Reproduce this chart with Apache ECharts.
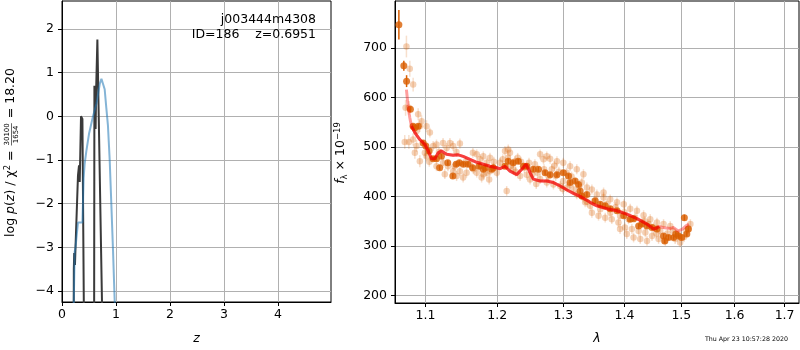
<!DOCTYPE html>
<html>
<head>
<meta charset="utf-8">
<script src="https://cdn.jsdelivr.net/npm/echarts@6/dist/echarts.min.js"></script>
<style>
html,body{margin:0;padding:0;background:#fff}
#chart{width:800px;height:350px}
</style>
</head>
<body>
<div id="chart"></div>
<script>
// ---- redshift panel: log p(z) curves -------------------------------------
const zTicks = [0, 1, 2, 3, 4];
const logpTicks = [-4, -3, -2, -1, 0, 1, 2];

// [z, log p(z)]  (values far below the axis floor mark the gaps between peaks)
const pzBlack = [
  [0.212, -9], [0.219, -3.5], [0.226, -3.13], [0.240, -3.4], [0.250, -3.0],
  [0.296, -1.35], [0.315, -1.12], [0.328, -1.5], [0.352, 0.0], [0.378, -0.06],
  [0.404, -4.3], [0.410, -9], [0.590, -9], [0.595, -4.3], [0.600, 0.70],
  [0.610, 0.72], [0.622, -0.29], [0.632, 0.60], [0.655, 1.76], [0.682, 1.76],
  [0.741, -4.3], [0.746, -9]
];
const pzBlue = [
  [0.210, -9], [0.217, -4.3], [0.235, -3.1], [0.250, -3.0], [0.266, -2.8],
  [0.296, -2.43], [0.378, -2.43], [0.390, -1.9], [0.400, -1.42], [0.420, -1.08],
  [0.450, -0.80], [0.500, -0.40], [0.574, 0.0], [0.640, 0.30], [0.700, 0.75],
  [0.730, 0.86], [0.760, 0.84], [0.790, 0.62], [0.820, 0.20], [0.850, -0.20],
  [0.883, -1.0], [0.910, -1.9], [0.945, -3.09], [0.976, -4.25], [0.990, -9]
];

// ---- spectrum panel -------------------------------------------------------
const lamTicks = [1.1, 1.2, 1.3, 1.4, 1.5, 1.6, 1.7];
const fluxTicks = [200, 300, 400, 500, 600, 700];

// [lambda (um), flux, error]  faint points
const lightPts = [
  [1.0748, 703, 22], [1.0737, 579, 16], [1.0726, 510, 14], [1.0781, 579, 14],
  [1.0780, 510, 14], [1.0792, 658, 16], [1.0836, 626, 14], [1.0835, 515, 12],
  [1.0858, 488, 12], [1.0880, 532, 12], [1.0880, 502, 12], [1.0902, 566, 12],
  [1.0924, 542, 12], [1.0924, 471, 12], [1.0947, 552, 12], [1.0991, 488, 10],
  [1.1013, 542, 12], [1.1013, 481, 10], [1.1050, 470, 10], [1.1058, 529, 10],
  [1.1102, 502, 10], [1.1147, 505, 10], [1.1147, 461, 10], [1.1180, 490, 10],
  [1.1236, 508, 10], [1.1236, 468, 10], [1.1260, 445, 10], [1.1285, 498, 10],
  [1.1303, 461, 10], [1.1330, 508, 10], [1.1375, 502, 10], [1.1375, 451, 10],
  [1.1394, 461, 10], [1.1420, 490, 10], [1.1422, 441, 10], [1.1468, 507, 10],
  [1.1468, 451, 10], [1.1513, 438, 10], [1.1550, 470, 10], [1.1561, 448, 10],
  [1.1608, 465, 10], [1.1650, 488, 10], [1.1656, 455, 10], [1.1704, 485, 10],
  [1.1704, 448, 10], [1.1750, 475, 10], [1.1750, 461, 10], [1.1774, 438, 10],
  [1.1798, 481, 10], [1.1798, 445, 10], [1.1846, 468, 10], [1.1846, 448, 10],
  [1.1882, 434, 10], [1.1894, 478, 10], [1.1894, 451, 10], [1.1942, 458, 10],
  [1.1950, 470, 10], [1.1992, 448, 10], [1.2040, 468, 10], [1.2080, 475, 10],
  [1.2112, 492, 10], [1.2137, 411, 10], [1.2156, 478, 10], [1.2160, 495, 10],
  [1.2186, 488, 10], [1.2200, 462, 10], [1.2234, 455, 10], [1.2260, 471, 10],
  [1.2270, 450, 10], [1.2300, 478, 10], [1.2336, 441, 10], [1.2350, 470, 10],
  [1.2400, 458, 10], [1.2436, 444, 10], [1.2470, 468, 10], [1.2486, 434, 10],
  [1.2520, 445, 10], [1.2560, 465, 10], [1.2580, 425, 10], [1.2600, 448, 10],
  [1.2639, 485, 10], [1.2639, 435, 10], [1.2691, 475, 10], [1.2700, 455, 10],
  [1.2742, 481, 10], [1.2742, 428, 10], [1.2770, 440, 10], [1.2793, 476, 10],
  [1.2820, 455, 10], [1.2845, 424, 10], [1.2860, 462, 10], [1.2880, 441, 10],
  [1.2900, 471, 10], [1.2930, 450, 10], [1.2952, 421, 10], [1.2990, 415, 10],
  [1.3000, 468, 10], [1.3000, 431, 10], [1.3050, 448, 10], [1.3059, 418, 10],
  [1.3107, 461, 10], [1.3107, 424, 10], [1.3130, 440, 10], [1.3161, 414, 10],
  [1.3214, 455, 10], [1.3214, 404, 10], [1.3250, 420, 10], [1.3295, 428, 10],
  [1.3321, 445, 10], [1.3321, 398, 10], [1.3349, 388, 10], [1.3377, 418, 10],
  [1.3377, 389, 10], [1.3430, 381, 10], [1.3458, 414, 10], [1.3458, 367, 10],
  [1.3500, 391, 10], [1.3540, 404, 10], [1.3567, 361, 10], [1.3595, 374, 10],
  [1.3650, 408, 10], [1.3650, 398, 10], [1.3677, 357, 10], [1.3700, 384, 10],
  [1.3760, 394, 10], [1.3760, 367, 10], [1.3787, 354, 10], [1.3850, 378, 10],
  [1.3874, 388, 10], [1.3898, 347, 10], [1.3926, 361, 10], [1.3926, 334, 10],
  [1.3988, 384, 10], [1.4000, 368, 10], [1.4008, 337, 10], [1.4040, 324, 10],
  [1.4069, 354, 10], [1.4098, 375, 10], [1.4127, 334, 10], [1.4156, 317, 10],
  [1.4180, 357, 10], [1.4214, 371, 10], [1.4243, 330, 10], [1.4271, 314, 10],
  [1.4302, 347, 10], [1.4329, 362, 10], [1.4350, 350, 10], [1.4359, 327, 10],
  [1.4388, 310, 10], [1.4417, 344, 10], [1.4445, 354, 10], [1.4476, 320, 10],
  [1.4500, 337, 10], [1.4550, 325, 10], [1.4563, 347, 10], [1.4592, 314, 10],
  [1.4620, 330, 10], [1.4680, 344, 10], [1.4711, 310, 10], [1.4750, 325, 10],
  [1.4800, 340, 10], [1.4850, 330, 10], [1.4888, 314, 10], [1.4950, 322, 10],
  [1.4978, 307, 10], [1.5050, 318, 10], [1.5090, 330, 10], [1.5120, 334, 10],
  [1.5165, 344, 10]
];

// [lambda (um), flux, error]  binned points
const darkPts = [
  [1.0650, 747, 30], [1.0714, 664, 10], [1.0750, 633, 12], [1.0800, 576, 6],
  [1.0835, 542, 5], [1.0857, 539, 5], [1.0903, 542, 5], [1.0968, 508, 5],
  [1.1004, 502, 5], [1.1048, 492, 5], [1.1100, 476, 5], [1.1147, 476, 5],
  [1.1190, 458, 5], [1.1214, 481, 5], [1.1300, 468, 5], [1.1370, 441, 5],
  [1.1416, 465, 5], [1.1460, 468, 5], [1.1516, 465, 5], [1.1580, 465, 5],
  [1.1646, 458, 5], [1.1736, 461, 5], [1.1798, 455, 5], [1.1826, 458, 5],
  [1.1920, 455, 5], [1.1942, 458, 5], [1.2112, 461, 5], [1.2160, 471, 5],
  [1.2234, 468, 5], [1.2309, 471, 5], [1.2386, 461, 5], [1.2436, 461, 5],
  [1.2536, 455, 5], [1.2613, 455, 5], [1.2716, 448, 5], [1.2793, 444, 5],
  [1.2900, 444, 5], [1.3000, 448, 5], [1.3081, 441, 5], [1.3107, 428, 5],
  [1.3188, 431, 5], [1.3241, 424, 5], [1.3268, 411, 5], [1.3295, 401, 5],
  [1.3377, 404, 5], [1.3513, 391, 5], [1.3595, 384, 5], [1.3677, 381, 5],
  [1.3760, 375, 5], [1.3874, 371, 5], [1.3988, 361, 5], [1.4098, 354, 5],
  [1.4156, 355, 5], [1.4243, 340, 5], [1.4302, 344, 5], [1.4388, 340, 5],
  [1.4476, 337, 5], [1.4563, 334, 5], [1.4680, 320, 5], [1.4700, 310, 5],
  [1.4769, 317, 5], [1.4860, 317, 5], [1.4900, 324, 5], [1.4950, 320, 5],
  [1.5006, 317, 5], [1.5055, 357, 6], [1.5100, 324, 5], [1.5130, 334, 5]
];

// best-fit model [lambda (um), flux]
const modelPts = [
  [1.0748, 616], [1.0774, 576], [1.0792, 559], [1.0814, 542], [1.0858, 529],
  [1.0924, 515], [1.0991, 505], [1.1035, 492], [1.1080, 476], [1.1124, 476],
  [1.1169, 488], [1.1215, 492], [1.1283, 485], [1.1375, 483], [1.1444, 484],
  [1.1513, 481], [1.1608, 475], [1.1704, 469], [1.1798, 465], [1.1894, 461],
  [1.1992, 458], [1.2039, 456], [1.2112, 461], [1.2186, 451], [1.2286, 444],
  [1.2361, 455], [1.2427, 465], [1.2486, 448], [1.2536, 435], [1.2639, 431],
  [1.2742, 431], [1.2845, 428], [1.2952, 421], [1.3059, 413], [1.3161, 406],
  [1.3268, 400], [1.3430, 388], [1.3540, 381], [1.3706, 375], [1.3874, 371],
  [1.4040, 364], [1.4214, 355], [1.4388, 344], [1.4503, 334], [1.4560, 336],
  [1.4600, 339], [1.4670, 337], [1.4800, 335], [1.4860, 337], [1.4940, 330],
  [1.5020, 334], [1.5080, 340], [1.5140, 344]
];
const modelCore = modelPts.filter(p => p[0] >= 1.081 && p[0] <= 1.461);

// ---- styling helpers ------------------------------------------------------
const FONT = '"DejaVu Sans", "Liberation Sans", sans-serif';
const FS = 12.5;
const GRIDC = '#b0b0b0';
const ORANGE = '#d95f02';
const minus = v => String(v).replace('-', '\u2212');

function axisCommon(ticks, fmt, margin) {
  return {
    axisLine: { show: true, onZero: false, lineStyle: { color: '#000', width: 1 } },
    axisTick: { show: true, inside: false, length: 4, customValues: ticks, lineStyle: { color: '#000', width: 1 } },
    axisLabel: { customValues: ticks, formatter: fmt, color: '#000', fontSize: FS, fontFamily: FONT, margin: margin },
    splitLine: { show: true, lineStyle: { color: GRIDC, width: 1 } }
  };
}

function errBars(color, width) {
  return function (params, api) {
    const x = api.value(0), y = api.value(1), e = api.value(2);
    const a = api.coord([x, y - e]);
    const b = api.coord([x, y + e]);
    return { type: 'line', shape: { x1: a[0], y1: a[1], x2: b[0], y2: b[1] },
             style: { stroke: color, lineWidth: width } };
  };
}

// text measuring for the composed axis labels
const mctx = document.createElement('canvas').getContext('2d');
function tw(s, size, italic) {
  mctx.font = (italic ? 'italic ' : '') + size + 'px ' + FONT;
  return mctx.measureText(s).width;
}

// left y label: log p(z) / chi^2 = 30100/1654 = 18.20
const supSize = 8.5, fracSize = 7;
const wA = tw('log ', FS) + tw('p', FS, true) + tw('(', FS) + tw('z', FS, true) +
           tw(') / \u03c7', FS) + tw('2', supSize) + tw(' = ', FS);
const wF = Math.max(tw('30100', fracSize), tw('1654', fracSize)) + 2;
const wC = tw(' = 18.20', FS);
const x0 = -(wA + wF + wC) / 2;
const fracMid = x0 + wA + wF / 2;

const richBase = {
  n: { fontSize: FS, fontFamily: FONT, fill: '#000', lineHeight: 16 },
  i: { fontSize: FS, fontFamily: FONT, fontStyle: 'italic', fill: '#000', lineHeight: 16 },
  sup: { fontSize: supSize, fontFamily: FONT, fill: '#000', verticalAlign: 'top', lineHeight: 16 },
  sub: { fontSize: supSize, fontFamily: FONT, fill: '#000', verticalAlign: 'bottom', lineHeight: 16 }
};

const option = {
  animation: false,
  backgroundColor: '#fff',
  grid: [
    { left: 62, top: 1, width: 269, height: 303, show: true, borderColor: '#000', borderWidth: 1 },
    { left: 395, top: 1, width: 404, height: 303, show: true, borderColor: '#000', borderWidth: 1 }
  ],
  xAxis: [
    Object.assign({
      type: 'value', gridIndex: 0, min: 0, max: 4.98,
      name: 'z', nameLocation: 'middle', nameGap: 30,
      nameTextStyle: { fontStyle: 'italic', fontSize: FS, fontFamily: FONT, color: '#000' }
    }, axisCommon(zTicks, v => minus(v), 6)),
    Object.assign({
      type: 'log', logBase: 10, gridIndex: 1, min: 1.06, max: 1.73,
      name: '\u03bb', nameLocation: 'middle', nameGap: 29,
      nameTextStyle: { fontStyle: 'italic', fontSize: FS, fontFamily: FONT, color: '#000' }
    }, axisCommon(lamTicks, v => Number(v).toFixed(1), 6))
  ],
  yAxis: [
    Object.assign({ type: 'value', gridIndex: 0, min: -4.25, max: 2.64 },
      axisCommon(logpTicks, v => minus(v), 8)),
    Object.assign({ type: 'value', gridIndex: 1, min: 184.5, max: 795 },
      axisCommon(fluxTicks, v => String(v), 8))
  ],
  series: [
    { type: 'line', xAxisIndex: 0, yAxisIndex: 0, data: pzBlack, showSymbol: false, clip: true,
      lineStyle: { color: '#3a3a3a', width: 2 }, z: 3 },
    { type: 'line', xAxisIndex: 0, yAxisIndex: 0, data: pzBlue, showSymbol: false, clip: true,
      lineStyle: { color: 'rgba(31,119,180,0.55)', width: 2 }, z: 4 },

    { type: 'custom', xAxisIndex: 1, yAxisIndex: 1, data: lightPts, clip: true,
      encode: { x: 0, y: 1 }, renderItem: errBars('rgba(217,95,2,0.2)', 1.5), z: 2 },
    { type: 'scatter', xAxisIndex: 1, yAxisIndex: 1, data: lightPts.map(p => [p[0], p[1]]),
      symbolSize: 6.5, itemStyle: { color: 'rgba(217,95,2,0.36)' }, z: 2 },

    { type: 'custom', xAxisIndex: 1, yAxisIndex: 1, data: darkPts, clip: true,
      encode: { x: 0, y: 1 }, renderItem: errBars(ORANGE, 1.5), z: 3 },
    { type: 'scatter', xAxisIndex: 1, yAxisIndex: 1, data: darkPts.map(p => [p[0], p[1]]),
      symbolSize: 7, itemStyle: { color: ORANGE }, z: 3 },

    { type: 'line', xAxisIndex: 1, yAxisIndex: 1, data: modelPts, showSymbol: false, clip: true,
      lineStyle: { color: 'rgba(255,0,0,0.38)', width: 3 }, z: 4 },
    { type: 'line', xAxisIndex: 1, yAxisIndex: 1, data: modelCore, showSymbol: false, clip: true,
      lineStyle: { color: 'rgba(240,0,0,0.6)', width: 3 }, z: 5 }
  ],
  graphic: [
    { type: 'text', x: 316, y: 20, z: 10,
      style: { text: 'j003444m4308', fill: '#000', fontSize: FS, fontFamily: FONT, align: 'right', verticalAlign: 'middle' } },
    { type: 'text', x: 316, y: 34.5, z: 10,
      style: { text: 'ID=186    z=0.6951', fill: '#000', fontSize: FS, fontFamily: FONT, align: 'right', verticalAlign: 'middle' } },
    { type: 'group', x: 11, y: 152.5, rotation: Math.PI / 2, z: 10, children: [
      { type: 'text', x: x0, y: 0,
        style: { text: '{n|log }{i|p}{n|(}{i|z}{n|) / \u03c7}{sup|2}{n| = }', rich: richBase,
                 align: 'left', verticalAlign: 'middle' } },
      { type: 'text', x: fracMid, y: -0.8,
        style: { text: '30100', fill: '#000', fontSize: fracSize, fontFamily: FONT, align: 'center', verticalAlign: 'bottom' } },
      { type: 'line', shape: { x1: fracMid - wF / 2 + 1, y1: 0.5, x2: fracMid + wF / 2 - 1, y2: 0.5 },
        style: { stroke: '#000', lineWidth: 0.6 } },
      { type: 'text', x: fracMid, y: 1.6,
        style: { text: '1654', fill: '#000', fontSize: fracSize, fontFamily: FONT, align: 'center', verticalAlign: 'top' } },
      { type: 'text', x: x0 + wA + wF, y: 0,
        style: { text: ' = 18.20', fill: '#000', fontSize: FS, fontFamily: FONT, align: 'left', verticalAlign: 'middle' } }
    ] },
    { type: 'text', x: 341, y: 153, rotation: Math.PI / 2, z: 10,
      style: { text: '{i|f}{sub|\u03bb}{n| \u00d7 10}{sup|\u221219}', rich: richBase, align: 'center', verticalAlign: 'middle' } },
    { type: 'text', x: 788, y: 339.5, z: 10,
      style: { text: 'Thu Apr 23 10:57:28 2020', fill: '#000', fontSize: 6.3, fontFamily: FONT, align: 'right', verticalAlign: 'middle' } }
  ]
};

const chart = echarts.init(document.getElementById('chart'), null, { renderer: 'canvas' });
chart.setOption(option);
</script>
</body>
</html>
